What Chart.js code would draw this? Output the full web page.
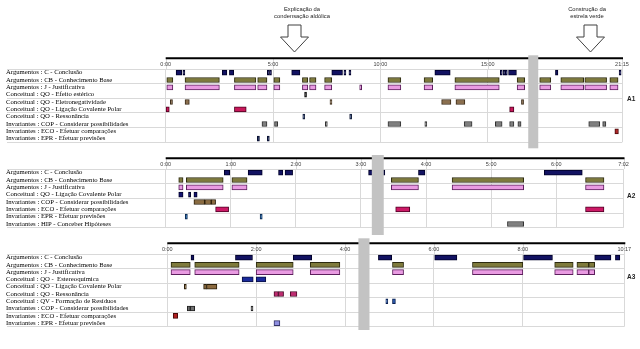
<!DOCTYPE html>
<html><head><meta charset="utf-8">
<script src="https://cdn.jsdelivr.net/npm/chart.js@4/dist/chart.umd.min.js"></script>
<style>
html,body{margin:0;padding:0;background:#fff;}
#wrap{position:relative;width:640px;height:349px;overflow:hidden;background:#fff;}
.p{position:absolute;left:0;width:640px;}
</style></head><body>
<div id="wrap">
<div class="p" style="top:0;height:150px"><canvas id="c1"></canvas></div>
<div class="p" style="top:150px;height:85px"><canvas id="c2"></canvas></div>
<div class="p" style="top:235px;height:114px"><canvas id="c3"></canvas></div>
</div>
<script>
// ---------- Panel A1 (times in seconds) ----------
const a1Labels = [
  "Argumentos : C - Conclusão",
  "Argumentos : CB - Conhecimento Base",
  "Argumentos : J - Justificativa",
  "Conceitual : QO - Efeito estérico",
  "Conceitual : QO - Eletronegatividade",
  "Conceitual : QO - Ligação Covalente Polar",
  "Conceitual : QO - Ressonância",
  "Invariantes : COP - Considerar possibilidades",
  "Invariantes : ECO - Efetuar comparações",
  "Invariantes : EPR - Efetuar previsões"
];
const a1Ticks = [0, 300, 600, 900, 1275];
const a1C = [[29,45],[48,51],[158,171],[178,190],[284,287],[290,293],[352,375],[464,494],[498,501],[512,515],[752,795],[935,938],[943,946],[949,953],[958,980],[1089,1096],[1267,1271]];
const a1CB = [[3,20],[54,150],[192,252],[257,283],[302,319],[382,397],[402,420],[444,464],[621,657],[722,746],[808,932],[982,1003],[1045,1076],[1104,1168],[1171,1232],[1241,1264]];
const a1J = [[3,20],[54,150],[192,252],[257,283],[302,319],[382,397],[402,420],[444,464],[542,545],[621,657],[722,746],[808,932],[982,1003],[1045,1076],[1104,1168],[1171,1232],[1241,1264]];
const a1QOEst = [[388,391]];
const a1QOEle = [[13,19],[54,66],[459,462],[771,797],[811,836],[994,1000]];
const a1QOLcp = [[1,10],[192,225],[961,973]];
const a1QORes = [[383,386],[514,519]];
const a1COP = [[269,283],[304,313],[446,449],[621,657],[724,728],[834,856],[921,940],[961,973],[984,993],[1182,1213],[1221,1230]];
const a1ECO = [[1255,1265]];
const a1EPR = [[256,262],[284,287]];
const a1Series = [a1C, a1CB, a1J, a1QOEst, a1QOEle, a1QOLcp, a1QORes, a1COP, a1ECO, a1EPR];
const a1Band = [1013, 1041];

// ---------- Panel A2 ----------
const a2Labels = [
  "Argumentos : C - Conclusão",
  "Argumentos : CB - Conhecimento Base",
  "Argumentos : J - Justificativa",
  "Conceitual : QO - Ligação Covalente Polar",
  "Invariantes : COP - Considerar possibilidades",
  "Invariantes : ECO - Efetuar comparações",
  "Invariantes : EPR - Efetuar previsões",
  "Invariantes : HIP - Conceber Hipóteses"
];
const a2Ticks = [0, 60, 120, 180, 240, 300, 360, 422];
const a2C = [[54,59],[76,89],[104,108],[110,117],[187,202],[233,239],[349,384]];
const a2CB = [[12,16],[19,53],[61,75],[208,233],[264,330],[387,404]];
const a2J = [[12,16],[19,53],[61,75],[208,233],[264,330],[387,404]];
const a2QOLcp = [[12,16],[21,23],[26,29]];
const a2COP = [[26,36],[36,42],[42,46]];
const a2ECO = [[46,58],[212,225],[387,404]];
const a2EPR = [[18,20],[87,89]];
const a2HIP = [[315,330]];
const a2Series = [a2C, a2CB, a2J, a2QOLcp, a2COP, a2ECO, a2EPR, a2HIP];
const a2Band = [190, 201];

// ---------- Panel A3 ----------
const a3Labels = [
  "Argumentos : C - Conclusão",
  "Argumentos : CB - Conhecimento Base",
  "Argumentos : J - Justificativa",
  "Conceitual : QO -  Estereoquímica",
  "Conceitual : QO - Ligação Covalente Polar",
  "Conceitual : QO - Ressonância",
  "Conceitual : QV - Formação de Resíduos",
  "Invariantes : COP - Considerar possibilidades",
  "Invariantes : ECO - Efetuar comparações",
  "Invariantes : EPR - Efetuar previsões"
];
const a3Ticks = [0, 120, 240, 360, 480, 617];
const a3C = [[32,36],[92,115],[170,195],[285,303],[361,391],[481,520],[577,599],[605,611]];
const a3CB = [[5,31],[37,97],[120,170],[193,233],[304,319],[412,480],[523,548],[553,569],[569,577]];
const a3J = [[5,31],[37,97],[120,170],[193,233],[304,319],[412,480],[523,548],[553,569],[569,577]];
const a3QOEst = [[101,116],[120,133]];
const a3QOLcp = [[23,25],[49,53],[53,67]];
const a3QORes = [[144,150],[150,157],[166,175]];
const a3QVRes = [[295,297],[304,308]];
const a3COP = [[27,31],[31,37],[113,115]];
const a3ECO = [[8,14]];
const a3EPR = [[144,152]];
const a3Series = [a3C, a3CB, a3J, a3QOEst, a3QOLcp, a3QORes, a3QVRes, a3COP, a3ECO, a3EPR];
const a3Band = [258, 273];

// ---------- styles ----------
const NAVY = ['#121262', '#000028'];
const OLIVE = ['#7e7a3c', '#2c2a10'];
const PINK = ['#e99be2', '#5c1f5c'];
const a1Styles = [NAVY, OLIVE, PINK, ['#2a2a2a','#111'], ['#8b6f4e','#3a2a18'], ['#c8185a','#4c0020'], ['#3b4f7f','#141e3a'], ['#7f7f7f','#303030'], ['#b0282a','#4a0a0a'], ['#1a2a5a','#0a1030']];
const a2Styles = [NAVY, OLIVE, PINK, ['#121270','#000028'], ['#8a6b40','#2a1e0a'], ['#cc1a66','#4c0024'], ['#2a6ab0','#0a2a50'], ['#808080','#333']];
const a3Styles = [NAVY, OLIVE, PINK, ['#1a2a9a','#0a1040'], ['#8b6a40','#2a1e0a'], ['#c02a70','#4a0a28'], ['#2a5ab0','#0a2050'], ['#707070','#222'], ['#b02020','#4a0a0a'], ['#8f8fe0','#333366']];

function fmt(v){ v = Math.round(v); return Math.floor(v/60) + ':' + String(v%60).padStart(2,'0'); }

const deco = {
  id: 'deco',
  beforeDraw(chart, args, o){
    const {ctx, chartArea: a, scales: {x}} = chart;
    ctx.save();
    ctx.strokeStyle = '#d9d9d9'; ctx.lineWidth = 1;
    x.ticks.forEach(t => {
      const px = Math.round(x.getPixelForValue(t.value)) + 0.5;
      ctx.beginPath(); ctx.moveTo(px, x.top); ctx.lineTo(px, a.top); ctx.stroke();
    });
    ctx.restore();
  },
  beforeDatasetsDraw(chart, args, o){
    const {ctx, chartArea: a, scales: {x}} = chart;
    ctx.save();
    ctx.strokeStyle = '#000'; ctx.lineWidth = 2;
    ctx.beginPath(); ctx.moveTo(a.left, x.top); ctx.lineTo(a.right + 1, x.top); ctx.stroke();
    ctx.restore();
  },
  afterDatasetsDraw(chart, args, o){
    const {ctx, chartArea: a, scales: {x}} = chart;
    ctx.save();
    // grey marker band
    const x0 = x.getPixelForValue(o.band[0]), x1 = x.getPixelForValue(o.band[1]);
    ctx.fillStyle = '#c3c3c3';
    ctx.fillRect(x0, x.top - o.bandUp, x1 - x0, a.bottom + o.bandDown - (x.top - o.bandUp));
    // panel tag
    ctx.fillStyle = '#222';
    ctx.font = 'bold 6.5px "Liberation Sans"';
    ctx.textAlign = 'left'; ctx.textBaseline = 'middle';
    ctx.fillText(o.tag, 627, o.tagY);
    // arrows with captions
    (o.arrows || []).forEach(ar => {
      const cx = ar.x;
      ctx.beginPath();
      ctx.moveTo(cx - 6.5, 25); ctx.lineTo(cx + 6.5, 25); ctx.lineTo(cx + 6.5, 37);
      ctx.lineTo(cx + 14, 37); ctx.lineTo(cx, 52); ctx.lineTo(cx - 14, 37);
      ctx.lineTo(cx - 6.5, 37); ctx.closePath();
      ctx.fillStyle = '#fff'; ctx.fill();
      ctx.strokeStyle = '#404040'; ctx.lineWidth = 1; ctx.stroke();
      ctx.fillStyle = '#222';
      ctx.font = '5.8px "Liberation Sans"';
      ctx.textAlign = 'center'; ctx.textBaseline = 'middle';
      ctx.fillText(ar.t1, ar.tx, 9.5);
      ctx.fillText(ar.t2, ar.tx, 16.2);
    });
    ctx.restore();
  }
};

function gridCol(c){ return (c.index === undefined || c.index % 2 === 0) ? '#d9d9d9' : 'rgba(0,0,0,0)'; }

function makeChart(id, labels, series, styles, ticks, pad, yWidth, decoOpts){
  const datasets = series.map((bars, i) => ({
    data: bars.map(b => ({x: [b[0], b[1]], y: labels[i]})),
    backgroundColor: styles[i][0],
    borderColor: styles[i][1],
    borderWidth: 1,
    borderSkipped: false,
    barThickness: 5,
    grouped: false,
    minBarLength: 2
  }));
  return new Chart(document.getElementById(id), {
    type: 'bar',
    data: {labels, datasets},
    options: {
      indexAxis: 'y',
      responsive: true,
      maintainAspectRatio: false,
      animation: false,
      devicePixelRatio: 1,
      layout: {padding: pad},
      plugins: {legend: {display: false}, tooltip: {enabled: false}, deco: decoOpts},
      scales: {
        x: {
          type: 'linear', position: 'top', min: 0, max: ticks[ticks.length - 1],
          afterBuildTicks: s => { s.ticks = ticks.map(v => ({value: v})); },
          afterFit: s => { s.height = 10.7; },
          grid: {color: '#d9d9d9', drawTicks: false, lineWidth: 1},
          border: {display: false},
          ticks: {padding: 1, maxRotation: 0, autoSkip: false, color: '#404040',
                  font: {family: 'Liberation Sans', size: 5.5}, callback: v => fmt(v)}
        },
        y: {
          type: 'category', position: 'left', offset: true,
          afterFit: s => { s.width = yWidth; },
          grid: {offset: true, color: gridCol, tickColor: gridCol, drawTicks: true, tickLength: yWidth - 1, lineWidth: 1},
          border: {display: false},
          ticks: {crossAlign: 'far', padding: 0, autoSkip: false, color: '#000',
                  font: {family: 'Liberation Serif', size: 6.7}}
        }
      }
    },
    plugins: [deco]
  });
}

makeChart('c1', a1Labels, a1Series, a1Styles, a1Ticks,
  {top: 58.3, left: 6, right: 18, bottom: 7.7}, 159.7,
  {band: a1Band, bandUp: 3, bandDown: 6, tag: 'A1', tagY: 99,
   arrows: [{x: 294.5, tx: 302, t1: 'Explicação da', t2: 'condensação aldólica'},
            {x: 590.5, tx: 587, t1: 'Construção da', t2: 'estrela verde'}]});
makeChart('c2', a2Labels, a2Series, a2Styles, a2Ticks,
  {top: 8.3, left: 6, right: 16.5, bottom: 7.3}, 159.7,
  {band: a2Band, bandUp: 3.3, bandDown: 7.3, tag: 'A2', tagY: 46.7});
makeChart('c3', a3Labels, a3Series, a3Styles, a3Ticks,
  {top: 8.3, left: 6, right: 15.7, bottom: 22.3}, 161.3,
  {band: a3Band, bandUp: 5, bandDown: 3.3, tag: 'A3', tagY: 42});
</script>
</body></html>
